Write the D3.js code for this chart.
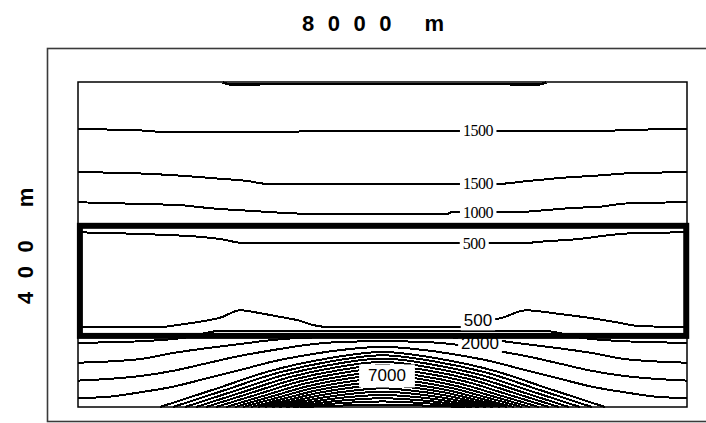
<!DOCTYPE html>
<html><head><meta charset="utf-8">
<script src="https://cdn.jsdelivr.net/npm/d3@7"></script>
<style>body{margin:0;background:#fff}svg{display:block}</style>
</head><body>
<svg id="chart" width="706" height="423"></svg>
<script>
// ---- data (x in metres along profile, depth in metres) ----
const widthLabel = "8000 m";
const heightLabel = "400 m";
const xExtent = [0, 8000];
const depthExtent = [0, 400];
const layerX = [25, 7990];
const layerDepth = [177, 312.5];

const contourValues = [2000, 1500, 1500, 1000, 500, 500, 1500, 2000, 2500, 3000,
  3500, 4000, 4500, 5000, 5500, 6000, 6500, 7000, 7500, 8000, 8500, 9000, 9500, 10000, 10500, 11000, 11500];

const contourPoints = [
  [[1900,0.5],[2000,3],[2900,2.5],[5200,2.5],[6050,3],[6150,0.5]],
  [[0,58],[800,59.5],[1150,61.5],[2850,61.5],[2950,60.5],[6850,60.5],[7200,59],[8000,58]],
  [[0,111],[800,112.5],[1300,115],[1600,117],[1850,119],[2200,121.5],[2500,125.5],[5500,125.5],[5900,122],[6350,118],[6850,115],[7200,112.5],[8000,111]],
  [[0,148],[800,150],[1400,152],[1600,154],[1820,156],[2170,158],[3150,162.5],[4850,162.5],[4900,160.5],[5700,160.5],[6100,158],[6500,155],[6850,153.5],[7200,149.5],[8000,148]],
  [[0,185],[800,187],[1650,191],[1850,193],[2200,198.5],[5800,198.5],[6150,196],[6600,193],[6850,190],[7200,186.5],[8000,185]],
  [[0,301.5],[1100,301.5],[1310,299],[1600,295],[1870,290],[2130,281],[2420,285],[2650,289],[2920,294],[3080,299],[3300,301.5],[4950,301.5],[5300,296],[5580,290],[5880,281],[6330,285.5],[6730,290.5],[7120,296.5],[7380,300.5],[8000,301.5]],
  [[0,321],[840,319],[1380,315],[1900,306],[6100,306],[6620,315],[7160,319],[8000,321]],
  [[0,345.5],[490,343.5],[820,341],[1250,333.5],[1700,327.5],[2130,322.5],[2560,317.5],[3050,314.5],[4000,313.8],[4950,314.5],[5440,317.5],[5870,322.5],[6300,327.5],[6750,333.5],[7180,341],[7510,343.5],[8000,345.5]],
  [[0,367.5],[390,365.5],[810,362],[1250,355.5],[1700,346],[2130,337],[2560,330],[3010,323.5],[3440,320],[4000,319],[4560,320],[4990,323.5],[5440,330],[5870,337],[6300,346],[6750,355.5],[7190,362],[7610,365.5],[8000,367.5]],
  [[0,389],[390,387.5],[810,382],[1250,375],[1700,364.5],[2130,354.5],[2560,344],[3010,336],[3440,330],[4000,326],[4560,330],[4990,336],[5440,344],[5870,354.5],[6300,364.5],[6750,375],[7190,382],[7610,387.5],[8000,389]],
  [[1077,400],[1808,377.7],[2538,355.3],[3269,340.4],[4000,332.3],[4731,340.4],[5462,355.3],[6192,377.7],[6923,400]],
  [[1248,400],[1936,379],[2624,358],[3312,344],[4000,336.4],[4688,344],[5376,358],[6064,379],[6752,400]],
  [[1406,400],[2054,380.3],[2703,360.7],[3351,347.6],[4000,340.4],[4649,347.6],[5297,360.7],[5946,380.3],[6594,400]],
  [[1550,400],[2162,381.7],[2775,363.4],[3387,351.2],[4000,344.5],[4613,351.2],[5225,363.4],[5838,381.7],[6450,400]],
  [[1682,400],[2261,383],[2841,366.1],[3420,354.8],[4000,348.6],[4580,354.8],[5159,366.1],[5739,383],[6318,400]],
  [[1813,400],[2360,384.4],[2906,368.7],[3453,358.3],[4000,352.6],[4547,358.3],[5094,368.7],[5640,384.4],[6187,400]],
  [[1944,400],[2458,385.7],[2972,371.4],[3486,361.9],[4000,356.7],[4514,361.9],[5028,371.4],[5542,385.7],[6056,400]],
  [[2062,400],[2546,387],[3031,374.1],[3515,365.4],[4000,360.7],[4485,365.4],[4969,374.1],[5454,387],[5938,400]],
  [[2167,400],[2625,388.4],[3083,376.8],[3542,369],[4000,364.8],[4458,369],[4917,376.8],[5375,388.4],[5833,400]],
  [[2273,400],[2705,389.7],[3136,379.5],[3568,372.6],[4000,368.9],[4432,372.6],[4864,379.5],[5295,389.7],[5727,400]],
  [[2365,400],[2774,391.1],[3182,382.1],[3591,376.2],[4000,372.9],[4409,376.2],[4818,382.1],[5226,391.1],[5635,400]],
  [[2457,400],[2843,392.4],[3228,384.8],[3614,379.8],[4000,377],[4386,379.8],[4772,384.8],[5157,392.4],[5543,400]],
  [[2548,400],[2911,393.7],[3274,387.5],[3637,383.3],[4000,381],[4363,383.3],[4726,387.5],[5089,393.7],[5452,400]],
  [[2640,400],[2980,395.1],[3320,390.2],[3660,386.9],[4000,385.1],[4340,386.9],[4680,390.2],[5020,395.1],[5360,400]],
  [[2732,400],[3049,396.4],[3366,392.9],[3683,390.5],[4000,389.2],[4317,390.5],[4634,392.9],[4951,396.4],[5268,400]],
  [[2824,400],[3118,397.8],[3412,395.5],[3706,394],[4000,393.2],[4294,394],[4588,395.5],[4882,397.8],[5176,400]],
  [[2916,400],[3187,399.1],[3458,398.2],[3729,397.6],[4000,397.3],[4271,397.6],[4542,398.2],[4813,399.1],[5084,400]]
];

const labelTexts = ["1500", "1500", "1000", "500", "500", "2000", "7000"];
const labelX = [5254, 5254, 5254, 5202, 5254, 5281, 4059];
const labelDepth = [60.3, 125.5, 161.2, 198.2, 294, 321.8, 361.8];

// ---- drawing ----
const svg = d3.select("#chart");
const plot = {left: 78, right: 687, top: 82, bottom: 407};
const x = d3.scaleLinear().domain(xExtent).range([plot.left, plot.right]);
const y = d3.scaleLinear().domain(depthExtent).range([plot.top, plot.bottom]);

svg.append("rect").attr("width", 706).attr("height", 423).attr("fill", "#fff");

// outer frame
svg.append("rect")
  .attr("x", 47.5).attr("y", 48.5).attr("width", 680).attr("height", 373)
  .attr("fill", "none").attr("stroke", "#3a3a3a").attr("stroke-width", 1.6);

// plot frame
svg.append("rect")
  .attr("x", x(xExtent[0])).attr("y", y(depthExtent[0]))
  .attr("width", x(xExtent[1]) - x(xExtent[0]))
  .attr("height", y(depthExtent[1]) - y(depthExtent[0]))
  .attr("fill", "none").attr("stroke", "#000").attr("stroke-width", 1.5);

const line = d3.line().x(d => x(d[0])).y(d => y(d[1])).curve(d3.curveMonotoneX);

svg.append("g").selectAll("path")
  .data(contourPoints)
  .join("path")
  .attr("d", line)
  .attr("fill", "none")
  .attr("stroke", "#000")
  .attr("shape-rendering", "crispEdges")
  .attr("stroke-width", (d, i) => i === 0 ? 2.5 : 2);

// labels with white background
const lg = svg.append("g");
labelTexts.forEach((t, i) => {
  const big = i >= 4;
  const g = lg.append("g");
  const bg = g.append("rect").attr("fill", "#fff");
  const txt = g.append("text")
    .attr("x", x(labelX[i])).attr("y", y(labelDepth[i]))
    .attr("text-anchor", "middle").attr("dominant-baseline", "central")
    .attr("font-family", big ? "Liberation Sans, Arial, sans-serif" : "Liberation Serif, serif")
    .attr("font-size", big ? 17 : 16)
    .attr("letter-spacing", big ? 0 : -0.5)
    .attr("fill", "#000")
    .text(t);
  const b = txt.node().getBBox();
  const padX = i === 6 ? 9 : 3, padY = i === 6 ? 2 : 0;
  bg.attr("x", b.x - padX).attr("y", b.y - padY)
    .attr("width", b.width + 2 * padX).attr("height", b.height + 2 * padY);
});

// thick layer box
svg.append("rect")
  .attr("x", x(layerX[0])).attr("y", y(layerDepth[0]))
  .attr("width", x(layerX[1]) - x(layerX[0]))
  .attr("height", y(layerDepth[1]) - y(layerDepth[0]))
  .attr("fill", "none").attr("stroke", "#000").attr("stroke-width", 6);

// titles
svg.append("text")
  .attr("x", 302).attr("y", 31)
  .attr("font-family", "Liberation Sans, Arial, sans-serif")
  .attr("font-weight", "bold").attr("font-size", 22)
  .attr("letter-spacing", 13.5)
  .text(widthLabel);

svg.append("text")
  .attr("transform", "translate(33,304) rotate(-90)")
  .attr("font-family", "Liberation Sans, Arial, sans-serif")
  .attr("font-weight", "bold").attr("font-size", 22)
  .attr("letter-spacing", 13.5)
  .text(heightLabel);
</script>
</body></html>
